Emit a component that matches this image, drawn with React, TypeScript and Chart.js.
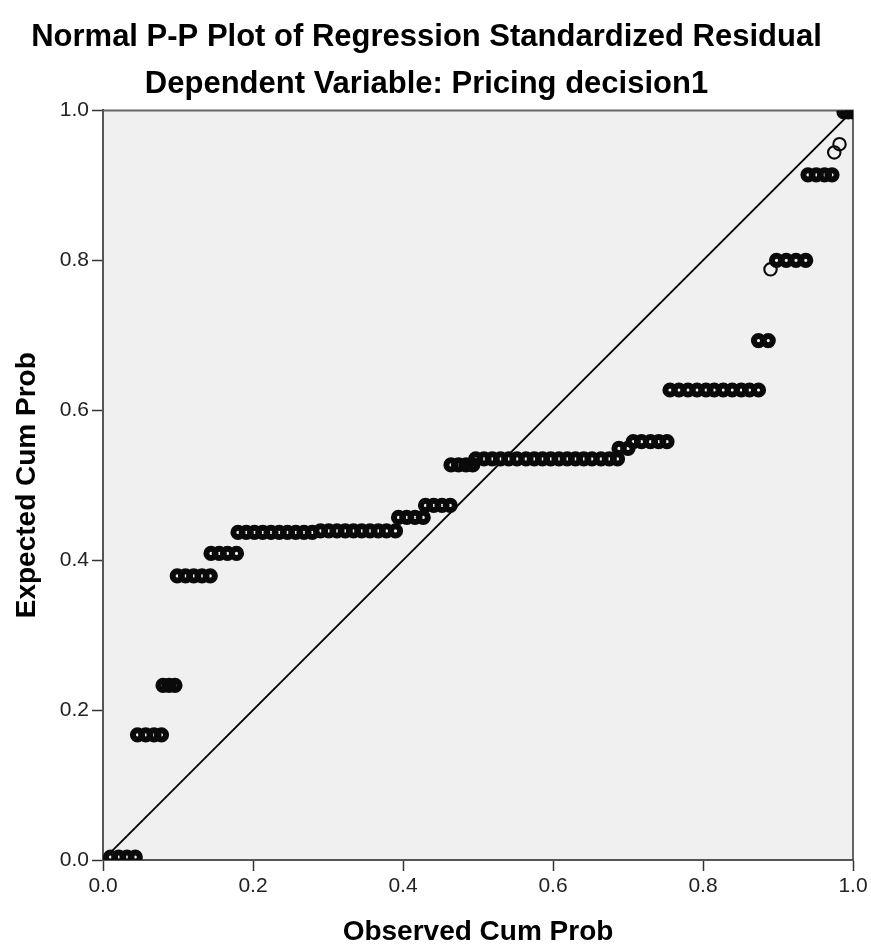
import React, { useEffect, useRef } from "react";
import { Chart, registerables } from "chart.js";

Chart.register(...registerables);

const TITLE = "Normal P-P Plot of Regression Standardized Residual";
const SUBTITLE = "Dependent Variable: Pricing decision1";
const X_TITLE = "Observed Cum Prob";
const Y_TITLE = "Expected Cum Prob";
const TICK_VALUES = [0, 0.2, 0.4, 0.6, 0.8, 1.0];

// Observed cumulative probability of the cases lying in runs of tied values
const observedCumProb = [
  0.010, 0.021, 0.032, 0.043,
  0.046, 0.057, 0.068, 0.078,
  0.080, 0.088, 0.096,
  0.099, 0.110, 0.121, 0.132, 0.143,
  0.144, 0.155, 0.166, 0.178,
  0.180, 0.191, 0.202, 0.213, 0.224, 0.235, 0.246, 0.257, 0.268, 0.279,
  0.290, 0.301, 0.312, 0.323, 0.334, 0.345, 0.356, 0.367, 0.378, 0.390,
  0.394, 0.405, 0.416, 0.427,
  0.430, 0.441, 0.452, 0.463,
  0.464, 0.474, 0.484, 0.493,
  0.497, 0.508, 0.519, 0.530, 0.541, 0.552, 0.564, 0.575, 0.586, 0.597, 0.608, 0.619, 0.630, 0.641, 0.652, 0.664, 0.675, 0.686,
  0.688, 0.700,
  0.707, 0.718, 0.730, 0.741, 0.752,
  0.756, 0.768, 0.780, 0.792, 0.804, 0.815, 0.827, 0.839, 0.851, 0.862, 0.874,
  0.874, 0.887,
  0.898, 0.911, 0.924, 0.937,
  0.940, 0.951, 0.962, 0.972,
  0.988, 0.994, 1.000,
];

// Expected cumulative probability of those cases
const expectedCumProb = [
  0.004, 0.004, 0.004, 0.004,
  0.167, 0.167, 0.167, 0.167,
  0.233, 0.233, 0.233,
  0.379, 0.379, 0.379, 0.379, 0.379,
  0.409, 0.409, 0.409, 0.409,
  0.437, 0.437, 0.437, 0.437, 0.437, 0.437, 0.437, 0.437, 0.437, 0.437,
  0.439, 0.439, 0.439, 0.439, 0.439, 0.439, 0.439, 0.439, 0.439, 0.439,
  0.457, 0.457, 0.457, 0.457,
  0.473, 0.473, 0.473, 0.473,
  0.527, 0.527, 0.527, 0.527,
  0.535, 0.535, 0.535, 0.535, 0.535, 0.535, 0.535, 0.535, 0.535, 0.535, 0.535, 0.535, 0.535, 0.535, 0.535, 0.535, 0.535, 0.535,
  0.549, 0.549,
  0.558, 0.558, 0.558, 0.558, 0.558,
  0.627, 0.627, 0.627, 0.627, 0.627, 0.627, 0.627, 0.627, 0.627, 0.627, 0.627,
  0.693, 0.693,
  0.800, 0.800, 0.800, 0.800,
  0.914, 0.914, 0.914, 0.914,
  0.998, 0.998, 0.998,
];

// Single (untied) cases, drawn as separate open circles
const singleObserved = [0.890, 0.975, 0.982];
const singleExpected = [0.788, 0.944, 0.955];

const diagonalX = [0, 1];
const diagonalY = [0, 1];

const FONT = "'Liberation Sans', Arial, Helvetica, sans-serif";

const plotBackground = {
  id: "plotBackground",
  beforeDraw(chart: any) {
    const { ctx, chartArea: a } = chart;
    ctx.save();
    ctx.fillStyle = "#f0f0f0";
    ctx.fillRect(a.left, a.top, a.right - a.left, a.bottom - a.top);
    ctx.strokeStyle = "#666666";
    ctx.lineWidth = 2;
    ctx.beginPath();
    ctx.moveTo(a.left, a.top);
    ctx.lineTo(a.right, a.top);
    ctx.lineTo(a.right, a.bottom);
    ctx.stroke();
    ctx.restore();
  },
};

export default function App() {
  const ref = useRef<HTMLCanvasElement | null>(null);

  useEffect(() => {
    if (!ref.current) return;
    const points = observedCumProb.map((x, i) => ({ x, y: expectedCumProb[i] }));
    const singles = singleObserved.map((x, i) => ({ x, y: singleExpected[i] }));
    const diag = diagonalX.map((x, i) => ({ x, y: diagonalY[i] }));
    const axisCommon = (title: string, isY: boolean) => ({
      type: "linear" as const,
      min: 0,
      max: 1,
      afterBuildTicks(scale: any) {
        scale.ticks = TICK_VALUES.map((v) => ({ value: v }));
      },
      afterFit(scale: any) {
        if (isY) scale.width = 103;
        else scale.height = 89;
      },
      grid: {
        display: true,
        drawOnChartArea: false,
        drawTicks: true,
        tickLength: 11,
        tickWidth: 1.5,
        tickColor: "#333333",
      },
      border: { display: true, color: "#555555", width: 2 },
      ticks: {
        padding: 3,
        color: "#222222",
        font: { size: 21, family: FONT },
        callback: (v: any) => Number(v).toFixed(1),
      },
      title: {
        display: true,
        text: title,
        color: "#000000",
        font: { size: 28, weight: "bold" as const, family: FONT },
        padding: isY ? { top: 10, bottom: 0 } : { top: 0, bottom: 0 },
      },
    });

    const chart = new Chart(ref.current, {
      type: "scatter",
      data: {
        datasets: [
          {
            type: "line",
            data: diag,
            borderColor: "#000000",
            borderWidth: 1.8,
            pointRadius: 0,
            fill: false,
            order: 3,
          } as any,
          {
            data: points,
            pointStyle: "circle",
            pointRadius: 4.6,
            pointBorderWidth: 6,
            pointBorderColor: "#0a0a0a",
            pointBackgroundColor: "rgba(0,0,0,0)",
            order: 1,
          },
          {
            data: singles,
            pointStyle: "circle",
            pointRadius: 6.2,
            pointBorderWidth: 2.1,
            pointBorderColor: "#0a0a0a",
            pointBackgroundColor: "rgba(0,0,0,0)",
            order: 2,
          },
        ],
      },
      options: {
        animation: false,
        responsive: false,
        devicePixelRatio: 1,
        layout: { padding: { left: 0, right: 18, top: 0, bottom: 0 } },
        plugins: {
          legend: { display: false },
          tooltip: { enabled: false },
          title: {
            display: true,
            text: TITLE,
            color: "#000000",
            font: { size: 31, weight: "bold", family: FONT },
            padding: { top: 19, bottom: 10 },
          },
          subtitle: {
            display: true,
            text: SUBTITLE,
            color: "#000000",
            font: { size: 31, weight: "bold", family: FONT },
            padding: { top: 0, bottom: 7 },
          },
        },
        scales: {
          x: axisCommon(X_TITLE, false) as any,
          y: axisCommon(Y_TITLE, true) as any,
        },
      },
      plugins: [plotBackground],
    });
    return () => chart.destroy();
  }, []);

  return (
    <div style={{ position: "fixed", left: 0, top: 0, width: 871, height: 949, background: "#ffffff" }}>
      <canvas ref={ref} width={871} height={949} />
    </div>
  );
}
